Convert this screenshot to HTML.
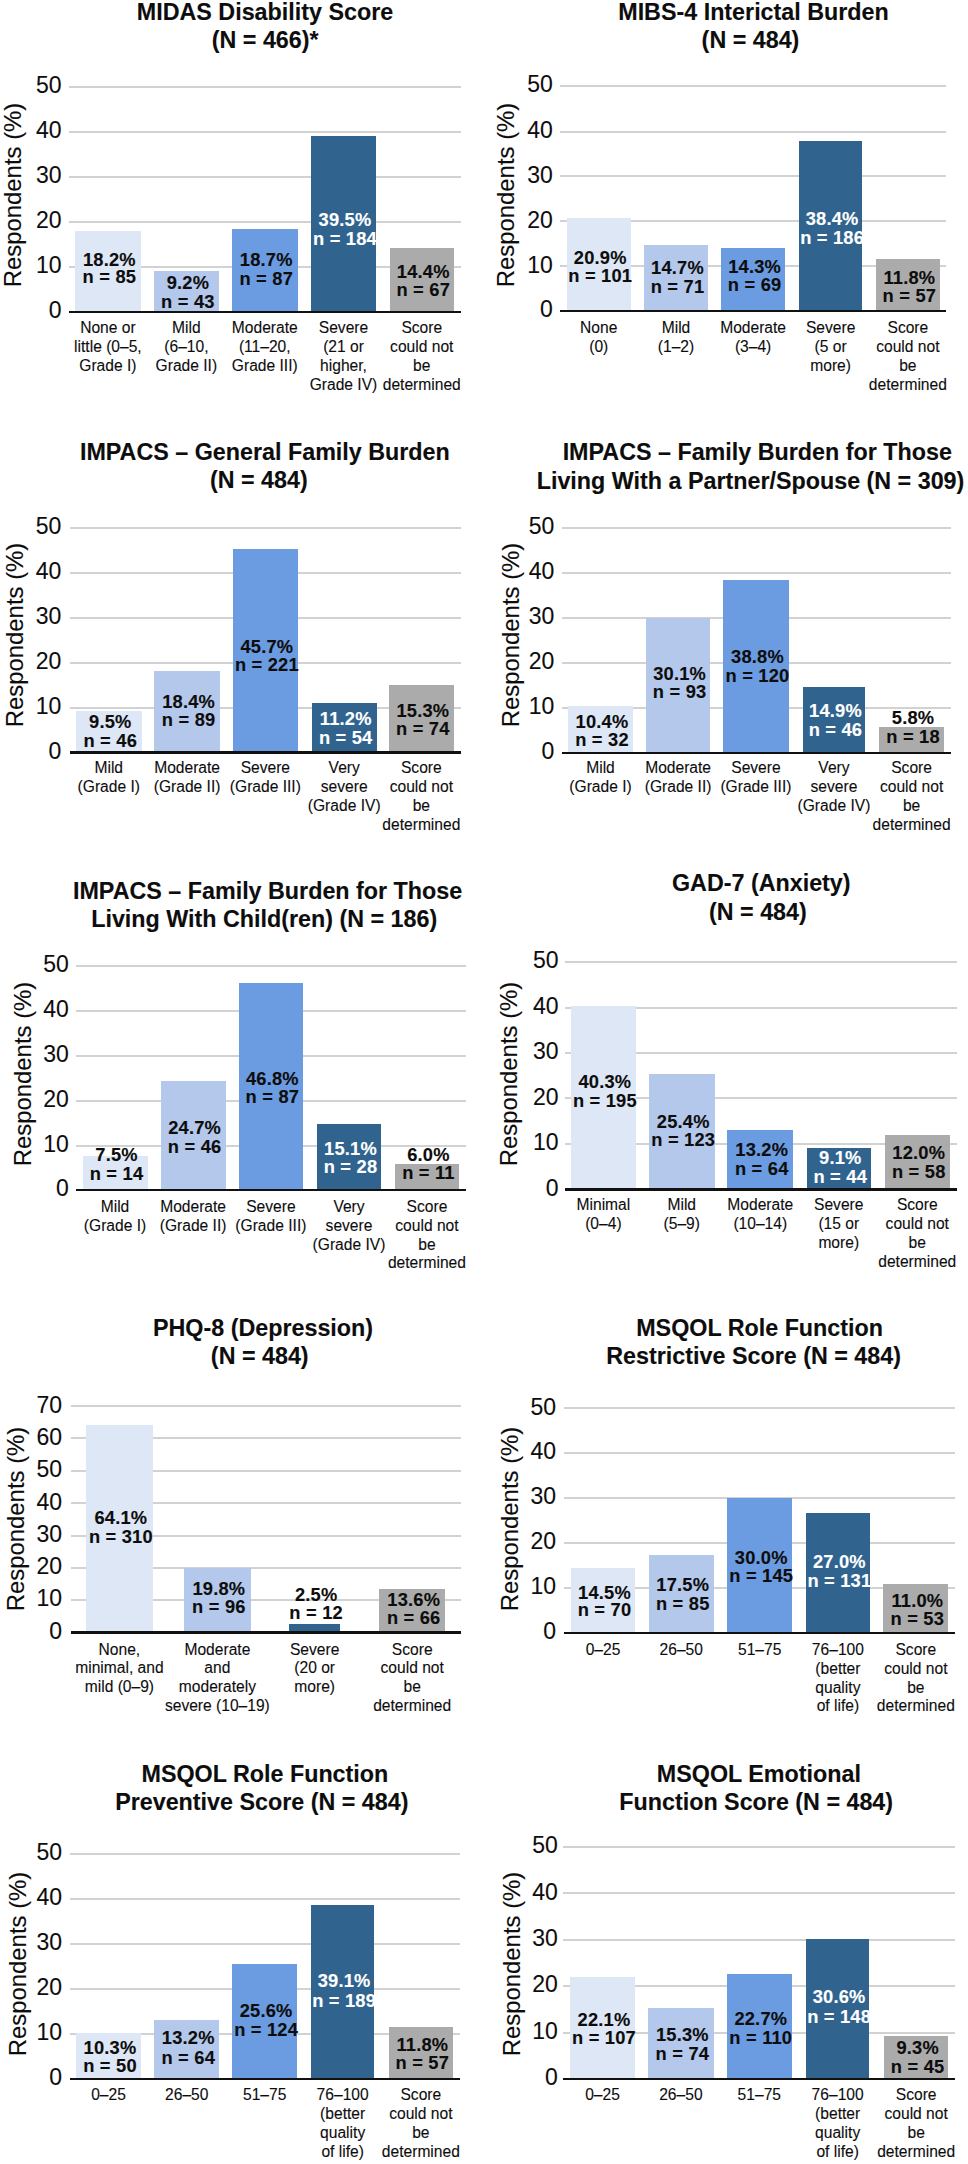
<!DOCTYPE html><html><head><meta charset="utf-8"><style>
html,body{margin:0;padding:0;background:#fff;}
.ti,.lb{-webkit-text-stroke:0.12px currentColor;}
.ct,.tk,.yt{-webkit-text-stroke:0.1px #0d0d0d;}
body{width:968px;height:2164px;position:relative;overflow:hidden;font-family:"Liberation Sans",sans-serif;color:#0d0d0d;}
.t{position:absolute;white-space:nowrap;text-align:center;transform:translateX(-50%);}
.ti{font-weight:bold;font-size:23.3px;line-height:30px;height:30px;}
.tk{position:absolute;white-space:nowrap;text-align:right;font-size:23.0px;line-height:26px;height:26px;transform:scaleY(1.08);}
.g{position:absolute;height:2px;background:#d2d2d2;}
.ax{position:absolute;height:2.5px;background:#111111;}
.b{position:absolute;}
.lb{font-weight:bold;font-size:18.3px;line-height:20px;height:20px;letter-spacing:0.2px;}
.ct{font-size:15.6px;line-height:20px;height:20px;transform:translateX(-50%) scaleY(1.08);}
.yt{position:absolute;white-space:nowrap;font-size:23.9px;line-height:26px;height:26px;transform:translate(-50%,-50%) rotate(-90deg) scaleY(0.98);}
</style></head><body>
<div class="t ti" style="left:265px;top:-3.27px">MIDAS Disability Score</div>
<div class="t ti" style="left:265.2px;top:25.03px">(N = 466)*</div>
<div class="g" style="left:68.75px;width:392px;top:85.5px"></div>
<div class="g" style="left:68.75px;width:392px;top:130.75px"></div>
<div class="g" style="left:68.75px;width:392px;top:175.75px"></div>
<div class="g" style="left:68.75px;width:392px;top:220.75px"></div>
<div class="g" style="left:68.75px;width:392px;top:265.75px"></div>
<div class="tk" style="right:906.35px;top:70.96px">50</div>
<div class="tk" style="right:906.35px;top:116.21px">40</div>
<div class="tk" style="right:906.35px;top:161.21px">30</div>
<div class="tk" style="right:906.35px;top:206.21px">20</div>
<div class="tk" style="right:906.35px;top:251.21px">10</div>
<div class="tk" style="right:906.35px;top:296.46px">0</div>
<div class="b" style="left:75px;width:65.75px;top:230.75px;height:81.25px;background:#dde7f5"></div>
<div class="b" style="left:153.75px;width:65.25px;top:271.25px;height:40.75px;background:#b4c8eb"></div>
<div class="b" style="left:232px;width:65.5px;top:228.5px;height:83.5px;background:#6b9be0"></div>
<div class="b" style="left:310.75px;width:65.5px;top:136.25px;height:175.75px;background:#30648f"></div>
<div class="b" style="left:389.5px;width:64.5px;top:248px;height:64px;background:#ababab"></div>
<div class="ax" style="left:68.75px;width:392px;top:310.75px"></div>
<div class="t lb" style="left:109.38px;top:250.16px;color:#0d0d0d">18.2%</div>
<div class="t lb" style="left:109.38px;top:267.16px;color:#0d0d0d">n = 85</div>
<div class="t lb" style="left:187.88px;top:272.91px;color:#0d0d0d">9.2%</div>
<div class="t lb" style="left:187.88px;top:291.66px;color:#0d0d0d">n = 43</div>
<div class="t lb" style="left:266.25px;top:250.41px;color:#0d0d0d">18.7%</div>
<div class="t lb" style="left:266.25px;top:269.16px;color:#0d0d0d">n = 87</div>
<div class="t lb" style="left:345px;top:210.41px;color:#fff">39.5%</div>
<div class="t lb" style="left:345px;top:228.66px;color:#fff">n = 184</div>
<div class="t lb" style="left:423.25px;top:262.16px;color:#0d0d0d">14.4%</div>
<div class="t lb" style="left:423.25px;top:279.66px;color:#0d0d0d">n = 67</div>
<div class="t ct" style="left:107.88px;top:318.34px">None or</div>
<div class="t ct" style="left:107.88px;top:337.19px">little (0–5,</div>
<div class="t ct" style="left:107.88px;top:356.04px">Grade I)</div>
<div class="t ct" style="left:186.38px;top:318.34px">Mild</div>
<div class="t ct" style="left:186.38px;top:337.19px">(6–10,</div>
<div class="t ct" style="left:186.38px;top:356.04px">Grade II)</div>
<div class="t ct" style="left:264.75px;top:318.34px">Moderate</div>
<div class="t ct" style="left:264.75px;top:337.19px">(11–20,</div>
<div class="t ct" style="left:264.75px;top:356.04px">Grade III)</div>
<div class="t ct" style="left:343.5px;top:318.34px">Severe</div>
<div class="t ct" style="left:343.5px;top:337.19px">(21 or</div>
<div class="t ct" style="left:343.5px;top:356.04px">higher,</div>
<div class="t ct" style="left:343.5px;top:374.89px">Grade IV)</div>
<div class="t ct" style="left:421.75px;top:318.34px">Score</div>
<div class="t ct" style="left:421.75px;top:337.19px">could not</div>
<div class="t ct" style="left:421.75px;top:356.04px">be</div>
<div class="t ct" style="left:421.75px;top:374.89px">determined</div>
<div class="yt" style="left:12.78px;top:195.1px">Respondents (%)</div>
<div class="t ti" style="left:753.5px;top:-3.27px">MIBS-4 Interictal Burden</div>
<div class="t ti" style="left:750.5px;top:25.43px">(N = 484)</div>
<div class="g" style="left:560.25px;width:385.75px;top:85px"></div>
<div class="g" style="left:560.25px;width:385.75px;top:130.5px"></div>
<div class="g" style="left:560.25px;width:385.75px;top:175.25px"></div>
<div class="g" style="left:560.25px;width:385.75px;top:220.25px"></div>
<div class="g" style="left:560.25px;width:385.75px;top:265.25px"></div>
<div class="tk" style="right:415.1px;top:70.46px">50</div>
<div class="tk" style="right:415.1px;top:115.96px">40</div>
<div class="tk" style="right:415.1px;top:160.71px">30</div>
<div class="tk" style="right:415.1px;top:205.71px">20</div>
<div class="tk" style="right:415.1px;top:250.71px">10</div>
<div class="tk" style="right:415.1px;top:295.46px">0</div>
<div class="b" style="left:567px;width:63.5px;top:217.5px;height:93.5px;background:#dde7f5"></div>
<div class="b" style="left:644px;width:64px;top:245px;height:66px;background:#b4c8eb"></div>
<div class="b" style="left:721px;width:64.25px;top:247.5px;height:63.5px;background:#6b9be0"></div>
<div class="b" style="left:799px;width:63.25px;top:140.5px;height:170.5px;background:#30648f"></div>
<div class="b" style="left:876px;width:63.75px;top:258.75px;height:52.25px;background:#ababab"></div>
<div class="ax" style="left:560.25px;width:385.75px;top:309.75px"></div>
<div class="t lb" style="left:600.25px;top:248.41px;color:#0d0d0d">20.9%</div>
<div class="t lb" style="left:600.25px;top:266.16px;color:#0d0d0d">n = 101</div>
<div class="t lb" style="left:677.5px;top:258.41px;color:#0d0d0d">14.7%</div>
<div class="t lb" style="left:677.5px;top:276.66px;color:#0d0d0d">n = 71</div>
<div class="t lb" style="left:754.62px;top:256.66px;color:#0d0d0d">14.3%</div>
<div class="t lb" style="left:754.62px;top:275.41px;color:#0d0d0d">n = 69</div>
<div class="t lb" style="left:832.12px;top:209.16px;color:#fff">38.4%</div>
<div class="t lb" style="left:832.12px;top:228.41px;color:#fff">n = 186</div>
<div class="t lb" style="left:909.38px;top:267.91px;color:#0d0d0d">11.8%</div>
<div class="t lb" style="left:909.38px;top:286.16px;color:#0d0d0d">n = 57</div>
<div class="t ct" style="left:598.75px;top:318.09px">None</div>
<div class="t ct" style="left:598.75px;top:336.94px">(0)</div>
<div class="t ct" style="left:676px;top:318.09px">Mild</div>
<div class="t ct" style="left:676px;top:336.94px">(1–2)</div>
<div class="t ct" style="left:753.12px;top:318.09px">Moderate</div>
<div class="t ct" style="left:753.12px;top:336.94px">(3–4)</div>
<div class="t ct" style="left:830.62px;top:318.09px">Severe</div>
<div class="t ct" style="left:830.62px;top:336.94px">(5 or</div>
<div class="t ct" style="left:830.62px;top:355.79px">more)</div>
<div class="t ct" style="left:907.88px;top:318.09px">Score</div>
<div class="t ct" style="left:907.88px;top:336.94px">could not</div>
<div class="t ct" style="left:907.88px;top:355.79px">be</div>
<div class="t ct" style="left:907.88px;top:374.64px">determined</div>
<div class="yt" style="left:506.18px;top:195.15px">Respondents (%)</div>
<div class="t ti" style="left:264.85px;top:437.23px">IMPACS – General Family Burden</div>
<div class="t ti" style="left:258.8px;top:465.43px">(N = 484)</div>
<div class="g" style="left:70px;width:390.5px;top:527px"></div>
<div class="g" style="left:70px;width:390.5px;top:572px"></div>
<div class="g" style="left:70px;width:390.5px;top:617px"></div>
<div class="g" style="left:70px;width:390.5px;top:662px"></div>
<div class="g" style="left:70px;width:390.5px;top:707px"></div>
<div class="tk" style="right:906.6px;top:512.46px">50</div>
<div class="tk" style="right:906.6px;top:557.46px">40</div>
<div class="tk" style="right:906.6px;top:602.46px">30</div>
<div class="tk" style="right:906.6px;top:647.46px">20</div>
<div class="tk" style="right:906.6px;top:692.46px">10</div>
<div class="tk" style="right:906.6px;top:736.96px">0</div>
<div class="b" style="left:75.75px;width:66px;top:710.75px;height:41.75px;background:#dde7f5"></div>
<div class="b" style="left:154.25px;width:65.75px;top:671.25px;height:81.25px;background:#b4c8eb"></div>
<div class="b" style="left:232.7px;width:65.3px;top:549.4px;height:203.1px;background:#6b9be0"></div>
<div class="b" style="left:311.8px;width:64.8px;top:703.2px;height:49.3px;background:#30648f"></div>
<div class="b" style="left:388.6px;width:65.5px;top:685px;height:67.5px;background:#ababab"></div>
<div class="ax" style="left:70px;width:390.5px;top:751.25px"></div>
<div class="t lb" style="left:110.25px;top:712.41px;color:#0d0d0d">9.5%</div>
<div class="t lb" style="left:110.25px;top:731.16px;color:#0d0d0d">n = 46</div>
<div class="t lb" style="left:188.62px;top:692.16px;color:#0d0d0d">18.4%</div>
<div class="t lb" style="left:188.62px;top:710.41px;color:#0d0d0d">n = 89</div>
<div class="t lb" style="left:266.85px;top:636.66px;color:#0d0d0d">45.7%</div>
<div class="t lb" style="left:266.85px;top:655.36px;color:#0d0d0d">n = 221</div>
<div class="t lb" style="left:345.7px;top:708.66px;color:#fff">11.2%</div>
<div class="t lb" style="left:345.7px;top:728.16px;color:#fff">n = 54</div>
<div class="t lb" style="left:422.85px;top:700.66px;color:#0d0d0d">15.3%</div>
<div class="t lb" style="left:422.85px;top:719.36px;color:#0d0d0d">n = 74</div>
<div class="t ct" style="left:108.75px;top:758.34px">Mild</div>
<div class="t ct" style="left:108.75px;top:777.19px">(Grade I)</div>
<div class="t ct" style="left:187.12px;top:758.34px">Moderate</div>
<div class="t ct" style="left:187.12px;top:777.19px">(Grade II)</div>
<div class="t ct" style="left:265.35px;top:758.34px">Severe</div>
<div class="t ct" style="left:265.35px;top:777.19px">(Grade III)</div>
<div class="t ct" style="left:344.2px;top:758.34px">Very</div>
<div class="t ct" style="left:344.2px;top:777.19px">severe</div>
<div class="t ct" style="left:344.2px;top:796.04px">(Grade IV)</div>
<div class="t ct" style="left:421.35px;top:758.34px">Score</div>
<div class="t ct" style="left:421.35px;top:777.19px">could not</div>
<div class="t ct" style="left:421.35px;top:796.04px">be</div>
<div class="t ct" style="left:421.35px;top:814.89px">determined</div>
<div class="yt" style="left:14.98px;top:635.25px">Respondents (%)</div>
<div class="t ti" style="left:757.25px;top:437.13px">IMPACS – Family Burden for Those</div>
<div class="t ti" style="left:750.5px;top:465.63px">Living With a Partner/Spouse (N = 309)</div>
<div class="g" style="left:562px;width:388.7px;top:526.5px"></div>
<div class="g" style="left:562px;width:388.7px;top:571.5px"></div>
<div class="g" style="left:562px;width:388.7px;top:616.5px"></div>
<div class="g" style="left:562px;width:388.7px;top:661.5px"></div>
<div class="g" style="left:562px;width:388.7px;top:706.5px"></div>
<div class="tk" style="right:413.6px;top:511.96px">50</div>
<div class="tk" style="right:413.6px;top:556.96px">40</div>
<div class="tk" style="right:413.6px;top:601.96px">30</div>
<div class="tk" style="right:413.6px;top:646.96px">20</div>
<div class="tk" style="right:413.6px;top:691.96px">10</div>
<div class="tk" style="right:413.6px;top:737.46px">0</div>
<div class="b" style="left:568.25px;width:64.5px;top:706.25px;height:46.75px;background:#dde7f5"></div>
<div class="b" style="left:646px;width:64.25px;top:618px;height:135px;background:#b4c8eb"></div>
<div class="b" style="left:723.3px;width:65.3px;top:580px;height:173px;background:#6b9be0"></div>
<div class="b" style="left:802.5px;width:62.9px;top:687.2px;height:65.8px;background:#30648f"></div>
<div class="b" style="left:879.2px;width:64.8px;top:727.2px;height:25.8px;background:#ababab"></div>
<div class="ax" style="left:562px;width:388.7px;top:751.75px"></div>
<div class="t lb" style="left:602px;top:712.41px;color:#0d0d0d">10.4%</div>
<div class="t lb" style="left:602px;top:730.41px;color:#0d0d0d">n = 32</div>
<div class="t lb" style="left:679.62px;top:663.66px;color:#0d0d0d">30.1%</div>
<div class="t lb" style="left:679.62px;top:682.41px;color:#0d0d0d">n = 93</div>
<div class="t lb" style="left:757.45px;top:646.86px;color:#0d0d0d">38.8%</div>
<div class="t lb" style="left:757.45px;top:666.06px;color:#0d0d0d">n = 120</div>
<div class="t lb" style="left:835.45px;top:701.16px;color:#fff">14.9%</div>
<div class="t lb" style="left:835.45px;top:720.16px;color:#fff">n = 46</div>
<div class="t lb" style="left:913.1px;top:708.16px;color:#0d0d0d">5.8%</div>
<div class="t lb" style="left:913.1px;top:726.56px;color:#0d0d0d">n = 18</div>
<div class="t ct" style="left:600.5px;top:758.34px">Mild</div>
<div class="t ct" style="left:600.5px;top:777.19px">(Grade I)</div>
<div class="t ct" style="left:678.12px;top:758.34px">Moderate</div>
<div class="t ct" style="left:678.12px;top:777.19px">(Grade II)</div>
<div class="t ct" style="left:755.95px;top:758.34px">Severe</div>
<div class="t ct" style="left:755.95px;top:777.19px">(Grade III)</div>
<div class="t ct" style="left:833.95px;top:758.34px">Very</div>
<div class="t ct" style="left:833.95px;top:777.19px">severe</div>
<div class="t ct" style="left:833.95px;top:796.04px">(Grade IV)</div>
<div class="t ct" style="left:911.6px;top:758.34px">Score</div>
<div class="t ct" style="left:911.6px;top:777.19px">could not</div>
<div class="t ct" style="left:911.6px;top:796.04px">be</div>
<div class="t ct" style="left:911.6px;top:814.89px">determined</div>
<div class="yt" style="left:510.58px;top:635.35px">Respondents (%)</div>
<div class="t ti" style="left:267.6px;top:875.63px">IMPACS – Family Burden for Those</div>
<div class="t ti" style="left:264.2px;top:903.88px">Living With Child(ren) (N = 186)</div>
<div class="g" style="left:76.25px;width:389.65px;top:964.5px"></div>
<div class="g" style="left:76.25px;width:389.65px;top:1009.5px"></div>
<div class="g" style="left:76.25px;width:389.65px;top:1054.5px"></div>
<div class="g" style="left:76.25px;width:389.65px;top:1099.5px"></div>
<div class="g" style="left:76.25px;width:389.65px;top:1144.5px"></div>
<div class="tk" style="right:899.1px;top:949.96px">50</div>
<div class="tk" style="right:899.1px;top:994.96px">40</div>
<div class="tk" style="right:899.1px;top:1039.96px">30</div>
<div class="tk" style="right:899.1px;top:1084.96px">20</div>
<div class="tk" style="right:899.1px;top:1129.96px">10</div>
<div class="tk" style="right:899.1px;top:1174.26px">0</div>
<div class="b" style="left:82.5px;width:65px;top:1156.25px;height:33.55px;background:#dde7f5"></div>
<div class="b" style="left:160.5px;width:65.25px;top:1080.5px;height:109.3px;background:#b4c8eb"></div>
<div class="b" style="left:238.5px;width:64.8px;top:982.5px;height:207.3px;background:#6b9be0"></div>
<div class="b" style="left:317.4px;width:63.2px;top:1124px;height:65.8px;background:#30648f"></div>
<div class="b" style="left:394.7px;width:64.5px;top:1163.7px;height:26.1px;background:#ababab"></div>
<div class="ax" style="left:76.25px;width:389.65px;top:1188.55px"></div>
<div class="t lb" style="left:116.5px;top:1145.41px;color:#0d0d0d">7.5%</div>
<div class="t lb" style="left:116.5px;top:1164.16px;color:#0d0d0d">n = 14</div>
<div class="t lb" style="left:194.62px;top:1118.41px;color:#0d0d0d">24.7%</div>
<div class="t lb" style="left:194.62px;top:1136.66px;color:#0d0d0d">n = 46</div>
<div class="t lb" style="left:272.4px;top:1068.66px;color:#0d0d0d">46.8%</div>
<div class="t lb" style="left:272.4px;top:1086.86px;color:#0d0d0d">n = 87</div>
<div class="t lb" style="left:350.5px;top:1138.76px;color:#fff">15.1%</div>
<div class="t lb" style="left:350.5px;top:1157.46px;color:#fff">n = 28</div>
<div class="t lb" style="left:428.45px;top:1145.16px;color:#0d0d0d">6.0%</div>
<div class="t lb" style="left:428.45px;top:1163.36px;color:#0d0d0d">n = 11</div>
<div class="t ct" style="left:115px;top:1196.84px">Mild</div>
<div class="t ct" style="left:115px;top:1215.69px">(Grade I)</div>
<div class="t ct" style="left:193.12px;top:1196.84px">Moderate</div>
<div class="t ct" style="left:193.12px;top:1215.69px">(Grade II)</div>
<div class="t ct" style="left:270.9px;top:1196.84px">Severe</div>
<div class="t ct" style="left:270.9px;top:1215.69px">(Grade III)</div>
<div class="t ct" style="left:349px;top:1196.84px">Very</div>
<div class="t ct" style="left:349px;top:1215.69px">severe</div>
<div class="t ct" style="left:349px;top:1234.54px">(Grade IV)</div>
<div class="t ct" style="left:426.95px;top:1196.84px">Score</div>
<div class="t ct" style="left:426.95px;top:1215.69px">could not</div>
<div class="t ct" style="left:426.95px;top:1234.54px">be</div>
<div class="t ct" style="left:426.95px;top:1253.39px">determined</div>
<div class="yt" style="left:23.43px;top:1074.25px">Respondents (%)</div>
<div class="t ti" style="left:761.25px;top:868.13px">GAD-7 (Anxiety)</div>
<div class="t ti" style="left:757.9px;top:896.63px">(N = 484)</div>
<div class="g" style="left:564.5px;width:392px;top:961px"></div>
<div class="g" style="left:564.5px;width:392px;top:1006.5px"></div>
<div class="g" style="left:564.5px;width:392px;top:1052px"></div>
<div class="g" style="left:564.5px;width:392px;top:1097.25px"></div>
<div class="g" style="left:564.5px;width:392px;top:1142.75px"></div>
<div class="tk" style="right:409.35px;top:946.46px">50</div>
<div class="tk" style="right:409.35px;top:991.96px">40</div>
<div class="tk" style="right:409.35px;top:1037.46px">30</div>
<div class="tk" style="right:409.35px;top:1082.71px">20</div>
<div class="tk" style="right:409.35px;top:1128.21px">10</div>
<div class="tk" style="right:409.35px;top:1173.96px">0</div>
<div class="b" style="left:570.75px;width:65.25px;top:1006.25px;height:183.25px;background:#dde7f5"></div>
<div class="b" style="left:649px;width:65.5px;top:1073.75px;height:115.75px;background:#b4c8eb"></div>
<div class="b" style="left:727.3px;width:65.9px;top:1129.7px;height:59.8px;background:#6b9be0"></div>
<div class="b" style="left:806.5px;width:64.5px;top:1148.4px;height:41.1px;background:#30648f"></div>
<div class="b" style="left:884.6px;width:65.3px;top:1135px;height:54.5px;background:#ababab"></div>
<div class="ax" style="left:564.5px;width:392px;top:1188.25px"></div>
<div class="t lb" style="left:604.88px;top:1072.16px;color:#0d0d0d">40.3%</div>
<div class="t lb" style="left:604.88px;top:1091.16px;color:#0d0d0d">n = 195</div>
<div class="t lb" style="left:683.25px;top:1111.66px;color:#0d0d0d">25.4%</div>
<div class="t lb" style="left:683.25px;top:1130.41px;color:#0d0d0d">n = 123</div>
<div class="t lb" style="left:761.75px;top:1139.96px;color:#0d0d0d">13.2%</div>
<div class="t lb" style="left:761.75px;top:1158.66px;color:#0d0d0d">n = 64</div>
<div class="t lb" style="left:840.25px;top:1147.96px;color:#fff">9.1%</div>
<div class="t lb" style="left:840.25px;top:1167.16px;color:#fff">n = 44</div>
<div class="t lb" style="left:918.75px;top:1143.16px;color:#0d0d0d">12.0%</div>
<div class="t lb" style="left:918.75px;top:1162.16px;color:#0d0d0d">n = 58</div>
<div class="t ct" style="left:603.38px;top:1195.09px">Minimal</div>
<div class="t ct" style="left:603.38px;top:1213.94px">(0–4)</div>
<div class="t ct" style="left:681.75px;top:1195.09px">Mild</div>
<div class="t ct" style="left:681.75px;top:1213.94px">(5–9)</div>
<div class="t ct" style="left:760.25px;top:1195.09px">Moderate</div>
<div class="t ct" style="left:760.25px;top:1213.94px">(10–14)</div>
<div class="t ct" style="left:838.75px;top:1195.09px">Severe</div>
<div class="t ct" style="left:838.75px;top:1213.94px">(15 or</div>
<div class="t ct" style="left:838.75px;top:1232.79px">more)</div>
<div class="t ct" style="left:917.25px;top:1195.09px">Score</div>
<div class="t ct" style="left:917.25px;top:1213.94px">could not</div>
<div class="t ct" style="left:917.25px;top:1232.79px">be</div>
<div class="t ct" style="left:917.25px;top:1251.64px">determined</div>
<div class="yt" style="left:509.38px;top:1073.65px">Respondents (%)</div>
<div class="t ti" style="left:263px;top:1313.38px">PHQ-8 (Depression)</div>
<div class="t ti" style="left:259.75px;top:1341.23px">(N = 484)</div>
<div class="g" style="left:71.25px;width:389.25px;top:1405.25px"></div>
<div class="g" style="left:71.25px;width:389.25px;top:1437.25px"></div>
<div class="g" style="left:71.25px;width:389.25px;top:1469.75px"></div>
<div class="g" style="left:71.25px;width:389.25px;top:1502.25px"></div>
<div class="g" style="left:71.25px;width:389.25px;top:1534.5px"></div>
<div class="g" style="left:71.25px;width:389.25px;top:1567px"></div>
<div class="g" style="left:71.25px;width:389.25px;top:1599px"></div>
<div class="tk" style="right:905.85px;top:1390.71px">70</div>
<div class="tk" style="right:905.85px;top:1422.71px">60</div>
<div class="tk" style="right:905.85px;top:1455.21px">50</div>
<div class="tk" style="right:905.85px;top:1487.71px">40</div>
<div class="tk" style="right:905.85px;top:1519.96px">30</div>
<div class="tk" style="right:905.85px;top:1552.46px">20</div>
<div class="tk" style="right:905.85px;top:1584.46px">10</div>
<div class="tk" style="right:905.85px;top:1616.96px">0</div>
<div class="b" style="left:86.25px;width:66.25px;top:1425px;height:207.5px;background:#dde7f5"></div>
<div class="b" style="left:184.25px;width:66.25px;top:1568px;height:64.5px;background:#b4c8eb"></div>
<div class="b" style="left:289.2px;width:50.9px;top:1623.8px;height:8.7px;background:#30648f"></div>
<div class="b" style="left:379.3px;width:65.8px;top:1588.6px;height:43.9px;background:#ababab"></div>
<div class="ax" style="left:71.25px;width:389.25px;top:1631.25px"></div>
<div class="t lb" style="left:120.88px;top:1507.91px;color:#0d0d0d">64.1%</div>
<div class="t lb" style="left:120.88px;top:1526.66px;color:#0d0d0d">n = 310</div>
<div class="t lb" style="left:218.88px;top:1579.16px;color:#0d0d0d">19.8%</div>
<div class="t lb" style="left:218.88px;top:1597.41px;color:#0d0d0d">n = 96</div>
<div class="t lb" style="left:316.15px;top:1584.56px;color:#0d0d0d">2.5%</div>
<div class="t lb" style="left:316.15px;top:1602.66px;color:#0d0d0d">n = 12</div>
<div class="t lb" style="left:413.7px;top:1590.16px;color:#0d0d0d">13.6%</div>
<div class="t lb" style="left:413.7px;top:1607.96px;color:#0d0d0d">n = 66</div>
<div class="t ct" style="left:119.38px;top:1639.59px">None,</div>
<div class="t ct" style="left:119.38px;top:1658.44px">minimal, and</div>
<div class="t ct" style="left:119.38px;top:1677.29px">mild (0–9)</div>
<div class="t ct" style="left:217.38px;top:1639.59px">Moderate</div>
<div class="t ct" style="left:217.38px;top:1658.44px">and</div>
<div class="t ct" style="left:217.38px;top:1677.29px">moderately</div>
<div class="t ct" style="left:217.38px;top:1696.14px">severe (10–19)</div>
<div class="t ct" style="left:314.65px;top:1639.59px">Severe</div>
<div class="t ct" style="left:314.65px;top:1658.44px">(20 or</div>
<div class="t ct" style="left:314.65px;top:1677.29px">more)</div>
<div class="t ct" style="left:412.2px;top:1639.59px">Score</div>
<div class="t ct" style="left:412.2px;top:1658.44px">could not</div>
<div class="t ct" style="left:412.2px;top:1677.29px">be</div>
<div class="t ct" style="left:412.2px;top:1696.14px">determined</div>
<div class="yt" style="left:15.68px;top:1518.65px">Respondents (%)</div>
<div class="t ti" style="left:759.6px;top:1313.38px">MSQOL Role Function</div>
<div class="t ti" style="left:753.6px;top:1341.38px">Restrictive Score (N = 484)</div>
<div class="g" style="left:564px;width:391.2px;top:1407.25px"></div>
<div class="g" style="left:564px;width:391.2px;top:1452px"></div>
<div class="g" style="left:564px;width:391.2px;top:1497px"></div>
<div class="g" style="left:564px;width:391.2px;top:1542px"></div>
<div class="g" style="left:564px;width:391.2px;top:1587px"></div>
<div class="tk" style="right:411.85px;top:1392.71px">50</div>
<div class="tk" style="right:411.85px;top:1437.46px">40</div>
<div class="tk" style="right:411.85px;top:1482.46px">30</div>
<div class="tk" style="right:411.85px;top:1527.46px">20</div>
<div class="tk" style="right:411.85px;top:1572.46px">10</div>
<div class="tk" style="right:411.85px;top:1617.46px">0</div>
<div class="b" style="left:570.75px;width:64.5px;top:1567.5px;height:65.5px;background:#dde7f5"></div>
<div class="b" style="left:649px;width:64.5px;top:1554.5px;height:78.5px;background:#b4c8eb"></div>
<div class="b" style="left:727.3px;width:64.8px;top:1498px;height:135px;background:#6b9be0"></div>
<div class="b" style="left:805.9px;width:64px;top:1512.7px;height:120.3px;background:#30648f"></div>
<div class="b" style="left:883.2px;width:65.3px;top:1583.8px;height:49.2px;background:#ababab"></div>
<div class="ax" style="left:564px;width:391.2px;top:1631.75px"></div>
<div class="t lb" style="left:604.5px;top:1582.91px;color:#0d0d0d">14.5%</div>
<div class="t lb" style="left:604.5px;top:1600.41px;color:#0d0d0d">n = 70</div>
<div class="t lb" style="left:682.75px;top:1574.91px;color:#0d0d0d">17.5%</div>
<div class="t lb" style="left:682.75px;top:1593.66px;color:#0d0d0d">n = 85</div>
<div class="t lb" style="left:761.2px;top:1548.06px;color:#0d0d0d">30.0%</div>
<div class="t lb" style="left:761.2px;top:1566.16px;color:#0d0d0d">n = 145</div>
<div class="t lb" style="left:839.4px;top:1552.06px;color:#fff">27.0%</div>
<div class="t lb" style="left:839.4px;top:1571.16px;color:#fff">n = 131</div>
<div class="t lb" style="left:917.35px;top:1590.66px;color:#0d0d0d">11.0%</div>
<div class="t lb" style="left:917.35px;top:1609.36px;color:#0d0d0d">n = 53</div>
<div class="t ct" style="left:603px;top:1639.89px">0–25</div>
<div class="t ct" style="left:681.25px;top:1639.89px">26–50</div>
<div class="t ct" style="left:759.7px;top:1639.89px">51–75</div>
<div class="t ct" style="left:837.9px;top:1639.89px">76–100</div>
<div class="t ct" style="left:837.9px;top:1658.74px">(better</div>
<div class="t ct" style="left:837.9px;top:1677.59px">quality</div>
<div class="t ct" style="left:837.9px;top:1696.44px">of life)</div>
<div class="t ct" style="left:915.85px;top:1639.89px">Score</div>
<div class="t ct" style="left:915.85px;top:1658.74px">could not</div>
<div class="t ct" style="left:915.85px;top:1677.59px">be</div>
<div class="t ct" style="left:915.85px;top:1696.44px">determined</div>
<div class="yt" style="left:509.88px;top:1518.8px">Respondents (%)</div>
<div class="t ti" style="left:264.9px;top:1759.13px">MSQOL Role Function</div>
<div class="t ti" style="left:261.8px;top:1787.13px">Preventive Score (N = 484)</div>
<div class="g" style="left:70px;width:389.7px;top:1852.5px"></div>
<div class="g" style="left:70px;width:389.7px;top:1897.5px"></div>
<div class="g" style="left:70px;width:389.7px;top:1943px"></div>
<div class="g" style="left:70px;width:389.7px;top:1988px"></div>
<div class="g" style="left:70px;width:389.7px;top:2033px"></div>
<div class="tk" style="right:905.85px;top:1837.96px">50</div>
<div class="tk" style="right:905.85px;top:1882.96px">40</div>
<div class="tk" style="right:905.85px;top:1928.46px">30</div>
<div class="tk" style="right:905.85px;top:1973.46px">20</div>
<div class="tk" style="right:905.85px;top:2018.46px">10</div>
<div class="tk" style="right:905.85px;top:2063.46px">0</div>
<div class="b" style="left:75.75px;width:65.5px;top:2033.25px;height:45.75px;background:#dde7f5"></div>
<div class="b" style="left:154.25px;width:65px;top:2019.75px;height:59.25px;background:#b4c8eb"></div>
<div class="b" style="left:232.1px;width:65.1px;top:1963.9px;height:115.1px;background:#6b9be0"></div>
<div class="b" style="left:310.8px;width:63.7px;top:1904.7px;height:174.3px;background:#30648f"></div>
<div class="b" style="left:388.6px;width:64.5px;top:2026.5px;height:52.5px;background:#ababab"></div>
<div class="ax" style="left:70px;width:389.7px;top:2077.75px"></div>
<div class="t lb" style="left:110px;top:2038.16px;color:#0d0d0d">10.3%</div>
<div class="t lb" style="left:110px;top:2055.66px;color:#0d0d0d">n = 50</div>
<div class="t lb" style="left:188.25px;top:2028.16px;color:#0d0d0d">13.2%</div>
<div class="t lb" style="left:188.25px;top:2048.16px;color:#0d0d0d">n = 64</div>
<div class="t lb" style="left:266.15px;top:2001.36px;color:#0d0d0d">25.6%</div>
<div class="t lb" style="left:266.15px;top:2019.96px;color:#0d0d0d">n = 124</div>
<div class="t lb" style="left:344.15px;top:1971.46px;color:#fff">39.1%</div>
<div class="t lb" style="left:344.15px;top:1990.66px;color:#fff">n = 189</div>
<div class="t lb" style="left:422.35px;top:2034.66px;color:#0d0d0d">11.8%</div>
<div class="t lb" style="left:422.35px;top:2052.76px;color:#0d0d0d">n = 57</div>
<div class="t ct" style="left:108.5px;top:2084.99px">0–25</div>
<div class="t ct" style="left:186.75px;top:2084.99px">26–50</div>
<div class="t ct" style="left:264.65px;top:2084.99px">51–75</div>
<div class="t ct" style="left:342.65px;top:2084.99px">76–100</div>
<div class="t ct" style="left:342.65px;top:2103.84px">(better</div>
<div class="t ct" style="left:342.65px;top:2122.69px">quality</div>
<div class="t ct" style="left:342.65px;top:2141.54px">of life)</div>
<div class="t ct" style="left:420.85px;top:2084.99px">Score</div>
<div class="t ct" style="left:420.85px;top:2103.84px">could not</div>
<div class="t ct" style="left:420.85px;top:2122.69px">be</div>
<div class="t ct" style="left:420.85px;top:2141.54px">determined</div>
<div class="yt" style="left:18.08px;top:1964.15px">Respondents (%)</div>
<div class="t ti" style="left:758.9px;top:1759.13px">MSQOL Emotional</div>
<div class="t ti" style="left:756.2px;top:1787.13px">Function Score (N = 484)</div>
<div class="g" style="left:563.25px;width:391.95px;top:1845.5px"></div>
<div class="g" style="left:563.25px;width:391.95px;top:1892.25px"></div>
<div class="g" style="left:563.25px;width:391.95px;top:1938.5px"></div>
<div class="g" style="left:563.25px;width:391.95px;top:1985px"></div>
<div class="g" style="left:563.25px;width:391.95px;top:2031.75px"></div>
<div class="tk" style="right:410.1px;top:1830.96px">50</div>
<div class="tk" style="right:410.1px;top:1877.71px">40</div>
<div class="tk" style="right:410.1px;top:1923.96px">30</div>
<div class="tk" style="right:410.1px;top:1970.46px">20</div>
<div class="tk" style="right:410.1px;top:2017.21px">10</div>
<div class="tk" style="right:410.1px;top:2063.46px">0</div>
<div class="b" style="left:570.25px;width:64.5px;top:1976.5px;height:102.5px;background:#dde7f5"></div>
<div class="b" style="left:648.25px;width:65.25px;top:2007.75px;height:71.25px;background:#b4c8eb"></div>
<div class="b" style="left:726.5px;width:65.6px;top:1973.7px;height:105.3px;background:#6b9be0"></div>
<div class="b" style="left:805.9px;width:63.5px;top:1938.6px;height:140.4px;background:#30648f"></div>
<div class="b" style="left:883.8px;width:64.7px;top:2035.8px;height:43.2px;background:#ababab"></div>
<div class="ax" style="left:563.25px;width:391.95px;top:2077.75px"></div>
<div class="t lb" style="left:604px;top:2010.16px;color:#0d0d0d">22.1%</div>
<div class="t lb" style="left:604px;top:2028.16px;color:#0d0d0d">n = 107</div>
<div class="t lb" style="left:682.38px;top:2025.16px;color:#0d0d0d">15.3%</div>
<div class="t lb" style="left:682.38px;top:2043.66px;color:#0d0d0d">n = 74</div>
<div class="t lb" style="left:760.8px;top:2009.36px;color:#0d0d0d">22.7%</div>
<div class="t lb" style="left:760.8px;top:2027.96px;color:#0d0d0d">n = 110</div>
<div class="t lb" style="left:839.15px;top:1987.16px;color:#fff">30.6%</div>
<div class="t lb" style="left:839.15px;top:2006.66px;color:#fff">n = 148</div>
<div class="t lb" style="left:917.65px;top:2037.86px;color:#0d0d0d">9.3%</div>
<div class="t lb" style="left:917.65px;top:2057.36px;color:#0d0d0d">n = 45</div>
<div class="t ct" style="left:602.5px;top:2084.99px">0–25</div>
<div class="t ct" style="left:680.88px;top:2084.99px">26–50</div>
<div class="t ct" style="left:759.3px;top:2084.99px">51–75</div>
<div class="t ct" style="left:837.65px;top:2084.99px">76–100</div>
<div class="t ct" style="left:837.65px;top:2103.84px">(better</div>
<div class="t ct" style="left:837.65px;top:2122.69px">quality</div>
<div class="t ct" style="left:837.65px;top:2141.54px">of life)</div>
<div class="t ct" style="left:916.15px;top:2084.99px">Score</div>
<div class="t ct" style="left:916.15px;top:2103.84px">could not</div>
<div class="t ct" style="left:916.15px;top:2122.69px">be</div>
<div class="t ct" style="left:916.15px;top:2141.54px">determined</div>
<div class="yt" style="left:511.78px;top:1964.15px">Respondents (%)</div>
</body></html>
